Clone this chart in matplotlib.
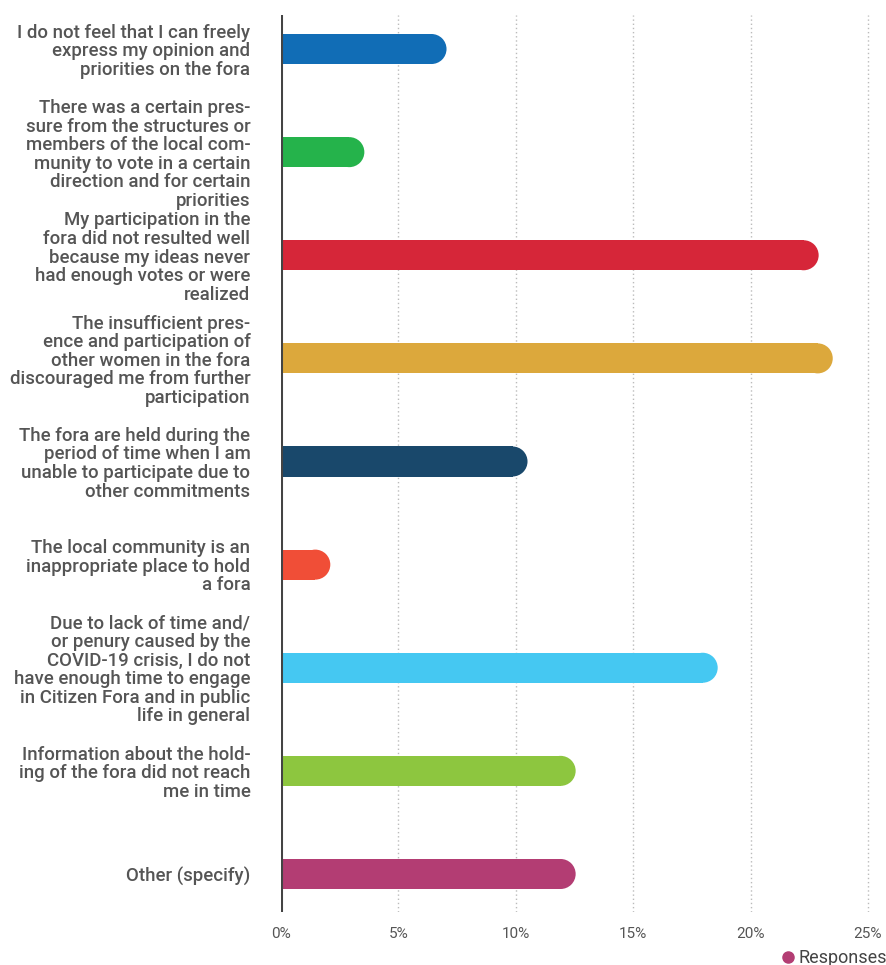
import matplotlib
matplotlib.use("Agg")
import matplotlib.pyplot as plt
from matplotlib.patches import Ellipse
from matplotlib.lines import Line2D

plt.rcParams['font.family'] = ['Roboto', 'DejaVu Sans']

# survey answers (share of responses, %)
categories = [
    "I do not feel that I can freely\nexpress my opinion and\npriorities on the fora",
    "There was a certain pres-\nsure from the structures or\nmembers of the local com-\nmunity to vote in a certain\ndirection and for certain\npriorities",
    "My participation in the\nfora did not resulted well\nbecause my ideas never\nhad enough votes or were\nrealized",
    "The insufficient pres-\nence and participation of\nother women in the fora\ndiscouraged me from further\nparticipation",
    "The fora are held during the\nperiod of time when I am\nunable to participate due to\nother commitments",
    "The local community is an\ninappropriate place to hold\na fora",
    "Due to lack of time and/\nor penury caused by the\nCOVID-19 crisis, I do not\nhave enough time to engage\nin Citizen Fora and in public\nlife in general",
    "Information about the hold-\ning of the fora did not reach\nme in time",
    "Other (specify)",
]
values = [7.05, 3.55, 22.9, 23.5, 10.5, 2.1, 18.6, 12.55, 12.55]
colors = ["#116db6", "#25b34b", "#d62639", "#dca83c", "#19486b",
          "#f04e37", "#45c8f2", "#8dc63f", "#b33d73"]
xticks = [0, 5, 10, 15, 20, 25]
series_name = "Responses"

W, H = 887, 965
fig = plt.figure(figsize=(W / 100, H / 100), dpi=100)
left, right, top, bottom = 281, 875, 15, 912
ax = fig.add_axes([left / W, 1 - bottom / H, (right - left) / W, (bottom - top) / H])

xmax = 25.3
ax.set_xlim(0, xmax)
ax.set_ylim(8 + 38 / 103.1, -34 / 103.1)

px_per_x = (right - left) / xmax
bar_h = 30 / 103.1
r_x = 15 / px_per_x  # cap radius in x data units

for i, (v, c) in enumerate(zip(values, colors)):
    ax.barh(i, v - r_x, height=bar_h, color=c, linewidth=0, zorder=3)
    ax.add_patch(Ellipse((v - r_x, i), 2 * r_x, bar_h, color=c, linewidth=0, zorder=3))

# dotted vertical guides
for t in xticks[1:]:
    ax.axvline(t, color="#bbbbbb", linewidth=1, linestyle=(0, (1, 2)), zorder=1)
ax.axvline(0, color="#444444", linewidth=2.2, zorder=4)

for s in ax.spines.values():
    s.set_visible(False)

ax.set_xticks(xticks)
ax.set_xticklabels([f"{t}%" for t in xticks])
ax.tick_params(axis='x', length=0, pad=11, labelsize=11, labelcolor="#555555")

ax.set_yticks(range(len(categories)))
ax.set_yticklabels(categories, fontweight='medium', linespacing=1.04)
ax.tick_params(axis='y', length=0, pad=22, labelsize=13.4, labelcolor="#555555")
for lab in ax.get_yticklabels():
    lab.set_horizontalalignment('right')
    lab.set_multialignment('right')

handle = Line2D([], [], marker='o', color=colors[-1], linestyle='', markersize=8)
fig.legend(handles=[handle], labels=[series_name], loc='lower right',
           frameon=False, handletextpad=0.1, borderaxespad=0.0, borderpad=0.0,
           bbox_to_anchor=(1.0, -0.002), fontsize=13, labelcolor="#444444",
           handlelength=1.0)

fig.savefig("out.png", dpi=100)
